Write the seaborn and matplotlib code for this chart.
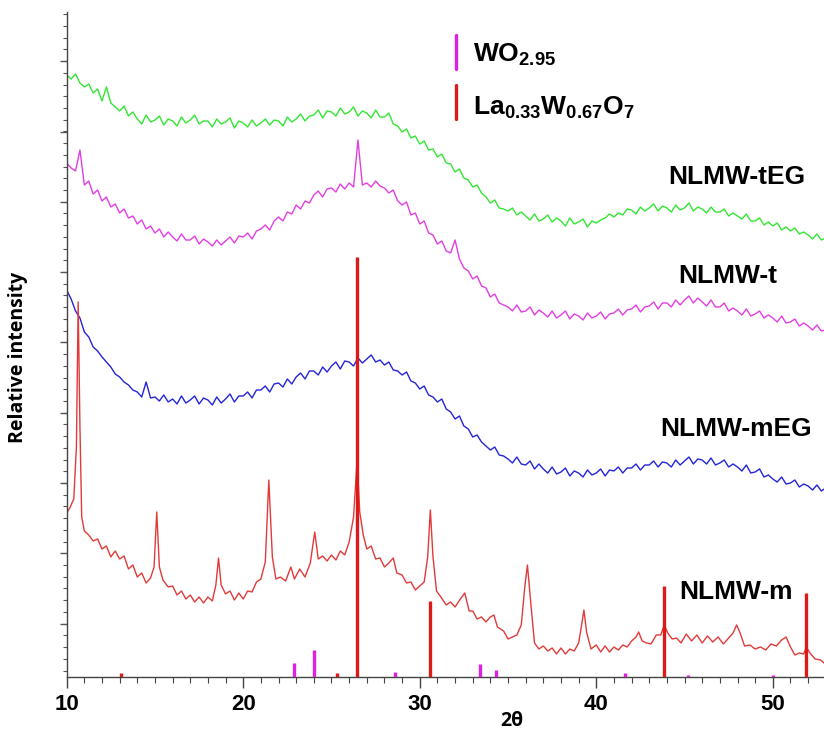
import numpy as np
import pandas as pd
import matplotlib
matplotlib.use("Agg")
import matplotlib.pyplot as plt
import seaborn as sns
from matplotlib.ticker import MultipleLocator
from matplotlib.lines import Line2D

sns.set_style("white")
plt.rcParams['font.family'] = ['Liberation Sans', 'DejaVu Sans']
plt.rcParams['mathtext.fontset'] = 'custom'
plt.rcParams['mathtext.rm'] = 'Liberation Sans'
plt.rcParams['mathtext.bf'] = 'Liberation Sans:bold'
plt.rcParams['text.color'] = 'black'
plt.rcParams['xtick.labelcolor'] = 'black'
plt.rcParams['ytick.labelcolor'] = 'black'

# ---------------- data ----------------
# 2-theta grid (0.25 deg step) for the three amorphous-looking patterns
two_theta = [round(10 + 0.25 * i, 2) for i in range(173)]

green_tEG = [
    602, 598, 603, 594, 590, 593, 584, 588, 576, 590, 574, 570, 566, 571, 561, 565,
    558, 553, 562, 555, 557, 561, 552, 558, 556, 551, 560, 554, 557, 562, 553, 556,
    556, 550, 558, 553, 555, 559, 549, 556, 554, 550, 557, 551, 554, 558, 552, 557,
    556, 551, 560, 555, 558, 563, 556, 561, 562, 567, 559, 566, 565, 561, 569, 563,
    565, 570, 561, 566, 564, 559, 567, 560, 560, 564, 553, 551, 545, 548, 539, 541,
    533, 536, 527, 528, 520, 523, 514, 513, 505, 508, 499, 497, 490, 492, 484, 480,
    474, 477, 469, 468, 466, 469, 462, 465, 461, 457, 463, 456, 458, 462, 455, 459,
    456, 451, 459, 453, 455, 458, 450, 456, 454, 457, 459, 463, 460, 464, 462, 468,
    467, 463, 470, 466, 469, 473, 466, 471, 469, 465, 472, 467, 469, 474, 466, 470,
    468, 464, 470, 465, 465, 468, 461, 464, 461, 458, 463, 456, 456, 459, 452, 455,
    451, 454, 447, 450, 446, 449, 443, 445, 442, 438, 443, 437, 439]

magenta_t = [
    514, 509, 506, 527, 492, 496, 483, 487, 476, 480, 470, 473, 464, 468, 459, 461,
    453, 457, 448, 451, 444, 448, 440, 445, 440, 436, 443, 437, 437, 441, 433, 438,
    435, 431, 437, 432, 436, 440, 434, 441, 440, 444, 438, 446, 448, 452, 447, 456,
    460, 456, 465, 463, 472, 468, 476, 474, 482, 486, 480, 488, 489, 485, 493, 488,
    494, 490, 537, 492, 494, 490, 496, 491, 489, 484, 487, 476, 472, 475, 462, 464,
    453, 456, 444, 442, 433, 436, 426, 424, 437, 418, 409, 406, 398, 401, 391, 389,
    380, 383, 374, 372, 370, 366, 372, 365, 366, 370, 362, 367, 364, 360, 366, 359,
    362, 366, 358, 363, 361, 357, 364, 359, 361, 365, 358, 363, 364, 368, 362, 367,
    368, 372, 365, 370, 371, 375, 368, 374, 374, 370, 377, 372, 377, 381, 374, 379,
    375, 371, 377, 370, 370, 374, 366, 369, 366, 362, 368, 361, 363, 366, 359, 362,
    359, 355, 361, 354, 355, 358, 351, 354, 351, 347, 352, 346, 347]

blue_mEG = [
    387, 378, 366, 359, 345, 340, 330, 326, 320, 315, 310, 303, 300, 295, 292, 287,
    285, 280, 295, 279, 280, 276, 282, 275, 278, 273, 281, 274, 277, 281, 273, 279,
    277, 272, 280, 274, 278, 283, 275, 281, 281, 285, 279, 287, 287, 291, 285, 293,
    294, 290, 298, 293, 300, 304, 298, 306, 306, 302, 310, 305, 311, 315, 308, 316,
    315, 311, 319, 314, 318, 322, 315, 317, 312, 315, 307, 306, 302, 305, 296, 294,
    288, 291, 282, 280, 275, 278, 268, 265, 258, 261, 251, 248, 240, 242, 235, 231,
    227, 230, 222, 221, 218, 214, 220, 213, 212, 216, 208, 213, 208, 204, 210, 203,
    205, 209, 201, 206, 204, 200, 207, 202, 204, 208, 201, 207, 206, 210, 204, 209,
    209, 213, 207, 212, 212, 216, 210, 215, 214, 210, 217, 212, 216, 220, 213, 218,
    217, 213, 219, 212, 214, 217, 210, 213, 210, 206, 212, 204, 205, 208, 200, 202,
    198, 195, 200, 193, 194, 197, 190, 193, 191, 187, 192, 186, 189]

# crystalline NLMW-m pattern (2-theta, intensity)
red_x = [10.0, 10.2, 10.4, 10.55, 10.65, 10.75, 10.85, 11.0, 11.25, 11.5, 11.75, 12.0,
         12.25, 12.5, 12.75, 13.0, 13.25, 13.5, 13.75, 14.0, 14.25, 14.5, 14.75, 14.95,
         15.1, 15.25, 15.45, 15.75, 16.0, 16.25, 16.5, 16.75, 17.0, 17.25, 17.5, 17.75,
         18.0, 18.25, 18.45, 18.6, 18.75, 19.0, 19.25, 19.5, 19.75, 20.0, 20.25, 20.5,
         20.75, 21.0, 21.25, 21.45, 21.65, 21.85, 22.1, 22.4, 22.7, 22.9, 23.2, 23.5,
         23.8, 24.05, 24.25, 24.5, 24.75, 25.0, 25.25, 25.5, 25.75, 26.0, 26.25, 26.45,
         26.6, 26.8, 27.0, 27.25, 27.5, 27.75, 28.0, 28.25, 28.5, 28.7, 29.0, 29.25,
         29.5, 29.75, 30.0, 30.25, 30.45, 30.6, 30.75, 30.95, 31.2, 31.5, 31.75, 32.0,
         32.3, 32.55, 32.8, 33.0, 33.25, 33.5, 33.75, 34.0, 34.2, 34.4, 34.75, 35.0,
         35.25, 35.5, 35.75, 35.95, 36.1, 36.3, 36.5, 36.75, 37.0, 37.25, 37.5, 37.75,
         38.0, 38.25, 38.5, 38.75, 39.0, 39.15, 39.3, 39.45, 39.7, 40.0, 40.25, 40.5,
         40.75, 41.0, 41.25, 41.5, 41.75, 42.0, 42.25, 42.4, 42.6, 42.85, 43.1, 43.4,
         43.65, 43.85, 44.05, 44.3, 44.55, 44.8, 45.1, 45.4, 45.7, 46.0, 46.3, 46.6,
         46.9, 47.2, 47.5, 47.75, 47.95, 48.15, 48.4, 48.7, 49.0, 49.3, 49.6, 49.9,
         50.2, 50.5, 50.75, 51.0, 51.25, 51.5, 51.75, 51.9, 52.1, 52.4, 52.7, 52.9]
red_m = [164, 170, 178, 230, 375, 250, 160, 146, 142, 136, 138, 128,
         131, 120, 126, 118, 121, 108, 112, 100, 104, 94, 99, 110,
         165, 110, 97, 90, 91, 82, 86, 78, 82, 75, 80, 74,
         80, 76, 92, 119, 92, 83, 86, 77, 84, 78, 86, 85,
         95, 98, 115, 197, 120, 98, 100, 96, 110, 98, 108, 100,
         114, 145, 118, 121, 116, 122, 117, 126, 122, 135, 160, 217,
         165, 142, 128, 131, 118, 119, 110, 114, 119, 104, 102, 94,
         95, 87, 91, 95, 120, 167, 120, 86, 80, 72, 75, 70,
         78, 84, 66, 66, 58, 60, 55, 60, 62, 50, 46, 38,
         40, 42, 52, 90, 112, 72, 34, 28, 31, 26, 29, 23,
         29, 23, 28, 26, 34, 50, 67, 45, 28, 32, 25, 31,
         25, 30, 27, 32, 30, 36, 40, 45, 36, 34, 33, 42,
         42, 52, 44, 38, 39, 34, 43, 36, 42, 34, 41, 35,
         40, 33, 39, 44, 52, 44, 31, 32, 28, 30, 27, 33,
         31, 37, 40, 30, 22, 24, 23, 30, 24, 18, 17, 14]

# reference stick patterns
wo_pos = [22.9, 24.0, 28.6, 33.4, 34.3, 41.6, 45.2, 50.0]
wo_int = [14, 27, 5, 13, 7, 4, 2, 2]
law_pos = [13.1, 25.3, 26.45, 30.6, 43.85, 51.9]
law_int = [4, 4, 420, 76, 91, 84]

sample_labels = ["NLMW-tEG", "NLMW-t", "NLMW-mEG", "NLMW-m"]
label_x = [47.94, 47.43, 47.94, 47.9]
label_y = [500, 401, 248, 85]
x_ticks = [10, 20, 30, 40, 50]

c_green = "#33e633"
c_mag = "#e23ee2"
c_blue = "#2424d8"
c_red = "#e23a3a"
c_stick_red = "#dd1a1a"
c_stick_mag = "#e020e0"

# ---------------- figure ----------------
W, H = 824, 731
fig = plt.figure(figsize=(W / 100, H / 100), dpi=100)
ax = fig.add_axes([66.7 / W, 1 - 677 / H, 1 - 66.7 / W, (677 - 12) / H])

df = pd.DataFrame({"x": two_theta, "tEG": green_tEG, "t": magenta_t, "mEG": blue_mEG})
dred = pd.DataFrame({"x": red_x, "y": red_m})

sns.lineplot(data=df, x="x", y="tEG", ax=ax, color=c_green, lw=1.0)
sns.lineplot(data=df, x="x", y="t", ax=ax, color=c_mag, lw=1.0)
sns.lineplot(data=df, x="x", y="mEG", ax=ax, color=c_blue, lw=1.0)
sns.lineplot(data=dred, x="x", y="y", ax=ax, color=c_red, lw=1.0)

ax.vlines(wo_pos, 0, wo_int, colors=c_stick_mag, lw=2.4, zorder=3)
ax.vlines(law_pos, 0, law_int, colors=c_stick_red, lw=2.4, zorder=3)

for lab, lx, ly in zip(sample_labels, label_x, label_y):
    ax.text(lx, ly, lab, ha="center", va="center", fontsize=19, fontweight="bold",
            color="black")

ax.set_xlim(10, 52.9)
ax.set_ylim(0, 665)
ax.set_xticks(x_ticks)
ax.set_xticklabels([str(t) for t in x_ticks], fontsize=16, fontweight="bold", color="black")
ax.xaxis.set_minor_locator(MultipleLocator(1))
ax.yaxis.set_major_locator(MultipleLocator(70.3, offset=53.4))
ax.yaxis.set_minor_locator(MultipleLocator(11.72, offset=6.5))
ax.set_yticklabels([])
ax.tick_params(axis="x", which="major", direction="out", length=8, width=1.0,
               color="#444444", pad=4, bottom=True)
ax.tick_params(axis="x", which="minor", direction="out", length=4, width=0.8,
               color="#444444", bottom=True)
ax.tick_params(axis="y", which="major", direction="out", length=5, width=1.0,
               color="#555555", left=True)
ax.tick_params(axis="y", which="minor", direction="out", length=3, width=0.8,
               color="#555555", left=True)

for s in ["top", "right"]:
    ax.spines[s].set_visible(False)
for s in ["left", "bottom"]:
    ax.spines[s].set_color("#444444")
    ax.spines[s].set_linewidth(1.0)

ax.set_xlabel("")
ax.set_ylabel("")
fig.text(512 / W, 1 - 721 / H, "2θ", ha="center", va="center", fontsize=14,
         fontweight="bold", color="black", family=["Open Sans", "DejaVu Sans"])
fig.text(18 / W, 1 - 357 / H, "Relative intensity", ha="center", va="center",
         rotation=90, fontsize=14, fontweight="bold", color="black",
         family=["Open Sans", "DejaVu Sans"])

# legend for reference patterns
fig.add_artist(Line2D([456 / W, 456 / W], [1 - 35 / H, 1 - 69 / H], color=c_stick_mag, lw=2.4))
fig.add_artist(Line2D([456 / W, 456 / W], [1 - 85 / H, 1 - 119 / H], color=c_stick_red, lw=2.4))
fig.text(473 / W, 1 - 62 / H, r"$\mathbf{WO_{2.95}}$", ha="left", va="baseline",
         fontsize=19, color="black")
fig.text(473 / W, 1 - 115 / H, r"$\mathbf{La_{0.33}W_{0.67}O_7}$", ha="left", va="baseline",
         fontsize=19, color="black")

fig.savefig("out.png", dpi=100)
